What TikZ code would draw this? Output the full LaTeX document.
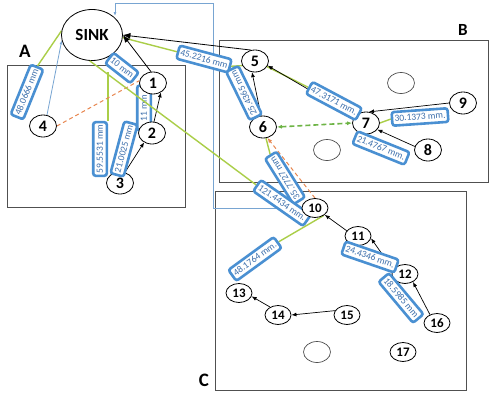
\documentclass[tikz,border=0pt]{standalone}
\usepackage{fontspec}
\setmainfont{Carlito}
\usetikzlibrary{arrows.meta,shapes.geometric}

\definecolor{regiongray}{RGB}{80,80,80}
\definecolor{distblue}{RGB}{74,144,210}
\definecolor{disttext}{RGB}{62,112,172}
\definecolor{reachgreen}{RGB}{170,206,72}
\definecolor{ordash}{RGB}{232,135,80}
\definecolor{gdash}{RGB}{110,180,70}
\definecolor{routeblue}{RGB}{120,165,210}

\pgfdeclarelayer{regions}
\pgfdeclarelayer{wires}
\pgfsetlayers{regions,wires,main}

\begin{document}
\begin{tikzpicture}[x=1pt,y=-1pt,
  region/.style={draw=regiongray,line width=0.8pt},
  zone/.style={font=\bfseries\fontsize{19}{19}\selectfont,inner sep=0pt},
  mote/.style={ellipse,draw,line width=0.8pt,fill=white,minimum width=27pt,minimum height=22pt,inner sep=0pt,font=\bfseries\fontsize{16}{16}\selectfont},
  motec/.style={mote,minimum width=26pt,minimum height=19pt,font=\bfseries\fontsize{13}{13}\selectfont},
  spare/.style={ellipse,draw=regiongray,line width=0.7pt,minimum width=27pt,minimum height=21pt,inner sep=0pt},
  dist/.style={draw=distblue,line width=2.6pt,rounded corners=2.5pt,fill=white,text=disttext,font=\fontsize{9.5}{9.5}\selectfont,inner xsep=2.5pt,inner ysep=2.8pt,text height=6.8pt,text depth=1.2pt},
  link/.style={line width=0.7pt,-{Latex[length=5pt,width=4pt]}},
  tosink/.style={line width=0.8pt,-{Latex[length=7.5pt,width=6pt]}},
  reach/.style={draw=reachgreen,line width=1.4pt},
  route/.style={draw=routeblue,line width=0.8pt,-{Latex[length=4pt,width=3pt]}},
  orline/.style={draw=ordash,line width=1pt,dash pattern=on 4pt off 3pt},
  gline/.style={draw=gdash,line width=1.6pt,dash pattern=on 5pt off 3pt,{Latex[length=5pt,width=4pt]}-{Latex[length=5pt,width=4pt]}}
]
\useasboundingbox (0,0) rectangle (492,394);

% regions A, B, C
\begin{pgfonlayer}{regions}
  \fill[white] (0,0) rectangle (492,394);
  \draw[region] (7,65) rectangle (185,207);
  \draw[region] (219,40) rectangle (488,182);
  \draw[region] (215,191) rectangle (466,390);
\end{pgfonlayer}
\node[zone] (tagA) at (25,51) {A};
\node[zone,font=\bfseries\fontsize{17}{17}\selectfont] (tagB) at (463,30) {B};
\node[zone] (tagC) at (204,380) {C};

% sink
\node[ellipse,draw,line width=0.8pt,fill=white,minimum width=61pt,minimum height=51pt,inner sep=0pt,
      font=\bfseries\fontsize{17}{17}\selectfont] (sink) at (92,35) {SINK};

% routing corners
\coordinate (rA) at (213,3);
\coordinate (rB) at (115,3);
\coordinate (rC) at (115,16);
\coordinate (fork) at (108,72);

% labels lying under the sensor nodes
\node[dist,rotate=90,minimum width=45pt] (L3) at (144,108) {11 mm};
\node[dist,rotate=122] (L11) at (285,178) {35.7727 mm};
\node[dist,rotate=-35] (L12) at (282,203) {121.4434 mm.};
\node[dist,rotate=-38] (L2) at (122,68) {10 mm};

% long reach line from the sink
\draw[reach] (sink.-95) -- (L12.west);

% empty positions
\node[spare] (e1) at (401,83) {};
\node[spare] (e2) at (327,150) {};
\node[spare] (e3) at (317,352) {};

% sensor nodes
\node[mote] (n1) at (153,83) {1};
\node[mote] (n2) at (152,133) {2};
\node[mote] (n3) at (120,183) {3};
\node[mote] (n4) at (43,126) {4};
\node[mote] (n5) at (255,61) {5};
\node[mote] (n6) at (263,127) {6};
\node[mote] (n7) at (366,123) {7};
\node[mote] (n8) at (428,150) {8};
\node[mote] (n9) at (463,103) {9};
\node[motec] (n10) at (315,208) {10};
\node[motec] (n11) at (358,236) {11};
\node[motec] (n12) at (405,274) {12};
\node[motec] (n13) at (239,293) {13};
\node[motec] (n14) at (278,315) {14};
\node[motec] (n15) at (347,315) {15};
\node[motec] (n16) at (437,323) {16};
\node[motec] (n17) at (403,352) {17};

% distance labels
\node[dist,rotate=68] (L1) at (27,92) {48.0666 mm};
\node[dist,rotate=90] (L4) at (100,149) {59.5531 mm};
\node[dist,rotate=75] (L5) at (124,149) {21.0025 mm};
\node[dist,rotate=-15] (L6) at (204,59) {45.2216 mm};
\node[dist,rotate=116] (L7) at (244,93) {25.4365 mm};
\node[dist,rotate=-28] (L8) at (334,101) {47.3171 mm.};
\node[dist,rotate=4] (L9) at (420,117) {30.1373 mm.};
\node[dist,rotate=-22] (L10) at (381,148) {21.4767 mm.};
\node[dist,rotate=36] (L13) at (255,259) {48.1764 mm.};
\node[dist,rotate=-19] (L14) at (370,257) {24.4346 mm.};
\node[dist,rotate=-50] (L15) at (401,298) {18.5985 mm};

\begin{pgfonlayer}{wires}
  % routed paths
  \draw[route] (n10.west) -| (rA) -- (rB) -- (rC);
  \draw[route] (n4.70) -- (sink.190);

  % reach lines
  \draw[reach] (L1.east) -- (sink.172);
  \draw[reach] (L4.south east) -- (L4.south east |- fork);
  \draw[reach] (sink.-5) -- (L6.west);
  \draw[reach] (L6.east) -- (n5.200);
  \draw[reach] (n5.-25) -- (L8.west);
  \draw[reach] (n7.east) -- (L9.west);
  \draw[reach] (n6.-75) -- (L11.east);
  \draw[reach] (n10.-40) -- (L13.east);

  % dashed links
  \draw[orline] (n4.east) -- (n1.170);
  \draw[orline,-{Latex[length=5pt,width=4pt]}] (n10.north) -- (n6.-68);
  \draw[gline] (n6.east) -- (n7.west);

  % parent links
  \draw[tosink] (n1.100) -- (sink.east);
  \draw[tosink] (n5.110) -- (sink.east);
  \draw[link] (n2.80) -- (n1.-50);
  \draw[link] (n3.65) -- (n2.230);
  \draw[link] (n6.100) -- (n5.255);
  \draw[link] (n7.150) -- (n5.-20);
  \draw[link] (n9.west) -- (n7.75);
  \draw[link] (n8.165) -- (n7.-30);
  \draw[link] (n11.155) -- (n10.-35);
  \draw[link] (n12.160) -- (n11.-10);
  \draw[link] (n16.130) -- (n12.-45);
  \draw[link] (n14.135) -- (n13.-15);
  \draw[link] (n15.160) -- (n14.east);
\end{pgfonlayer}
\end{tikzpicture}
\end{document}
